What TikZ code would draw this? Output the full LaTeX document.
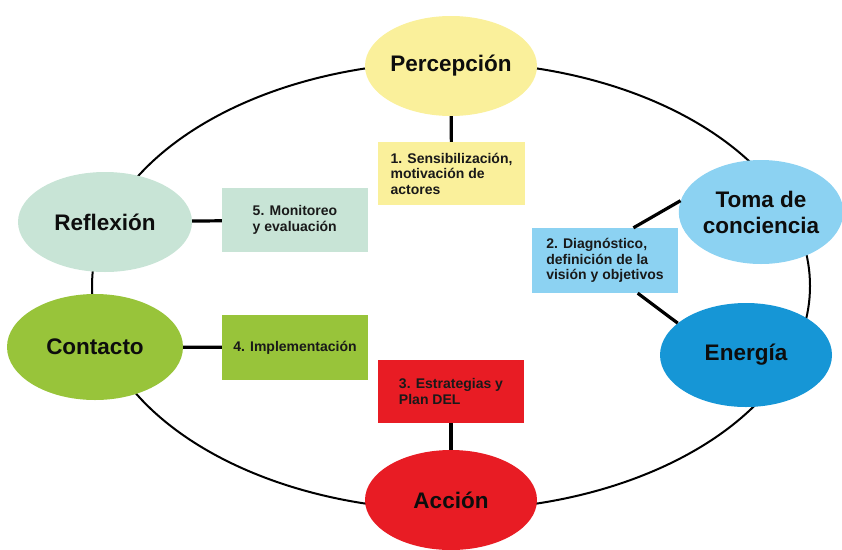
\documentclass[tikz,border=0pt]{standalone}
\usepackage{fontspec}
\setmainfont{Liberation Sans}
\usetikzlibrary{shapes.geometric}
\definecolor{percfill}{RGB}{250,240,155}
\definecolor{tomafill}{RGB}{140,210,242}
\definecolor{enerfill}{RGB}{22,150,214}
\definecolor{accfill}{RGB}{232,28,36}
\definecolor{contfill}{RGB}{152,196,58}
\definecolor{reflfill}{RGB}{200,228,214}

\begin{document}
\begin{tikzpicture}[x=1pt,y=-1pt]
\tikzset{phase/.style={ellipse, inner sep=0pt, align=center, text=black!95,
		font=\bfseries\fontsize{22.5}{26}\selectfont},
	stage/.style={rectangle, minimum width=146pt, minimum height=64pt, inner sep=0pt,
		align=left, text=black!90, font=\bfseries\fontsize{14}{15.5}\selectfont},
	link/.style={line width=3.2pt}}
				\useasboundingbox (0,0) rectangle (842,549);
				\coordinate (ring) at (451,286);
				\draw[line width=2pt] (ring) ellipse [x radius=359pt, y radius=224pt];
				\node[phase, fill=percfill, minimum width=172pt, minimum height=100pt] (perc) at (451,66) {Percepción};
				\node[phase, fill=tomafill, minimum width=162pt, minimum height=104pt] (toma) at (761,212) {Toma de\\conciencia};
				\node[phase, fill=enerfill, minimum width=172pt, minimum height=104pt] (ener) at (746,355) {Energía};
				\node[phase, fill=accfill, minimum width=172pt, minimum height=100pt] (acc) at (451,500) {Acción};
				\node[phase, fill=contfill, minimum width=176pt, minimum height=106pt] (cont) at (95,347) {Contacto};
				\node[phase, fill=reflfill, minimum width=174pt, minimum height=100pt] (refl) at (105,222) {Reflexión};
				\node[stage, fill=percfill, minimum width=147pt, minimum height=63pt] (s1) at (451.5,173.5) {1. Sensibilización,\\motivación de\\actores};
				\node[stage, fill=tomafill, minimum height=65pt] (s2) at (605,260.5) {2. Diagnóstico,\\definición de la\\visión y objetivos};
				\node[stage, fill=accfill, minimum height=63pt] (s3) at (451,391.5) {3. Estrategias y\\Plan DEL};
				\node[stage, fill=contfill, minimum height=65pt] (s4) at (295,347.5) {4. Implementación};
				\node[stage, fill=reflfill] (s5) at (295,220) {5. Monitoreo\\y evaluación};
				\draw[link] (perc) -- (s1);
				\draw[link] (s2.49) -- (toma.172);
				\draw[link] (s2.-45) -- (ener.155);
				\draw[link] (s3) -- (acc);
				\draw[link] (cont) -- (s4);
				\draw[link] (refl) -- (s5);
\end{tikzpicture}
\end{document}
